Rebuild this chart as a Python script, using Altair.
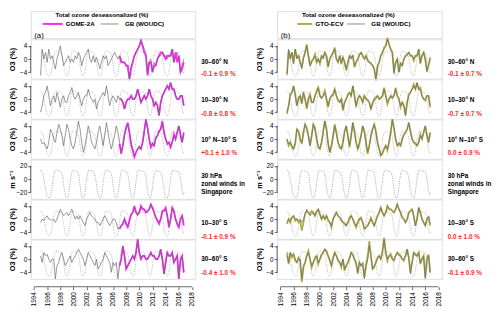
import altair as alt
import pandas as pd

# ---------------- data ----------------
T0 = 1995.0          # first quarterly sample of the ozone series
TS = 0.25            # quarterly step
SAT0 = 2007.0        # first GOME-2A sample
WIND_T0 = 1995.0     # first bimonthly wind sample
WIND_TS = 1 / 6

gb_30_60N = [-5, 3, 0, 2, -1, 3, 0, 1, -1, -3, 0, 2, 4, 1, -2, -1, 0, 1, -1, 0,
             -1, 1, 0, 2, 1, -2, 0, 1, 2, 3, 0, -1, 1, -1, 0.5, -1, -3, -1, 1, 0,
             1, -2, -1, 0, 1, 2, 1, 0, 1, 0, -1, -1, -2, -3, -6.5, -2, -1, 1, 2, 3,
             4, 6, 4.5, 3, 2, -4.5, -1, 0, -4, -1, -2, 0, 1, 1, 2, 1, 1, 0, 1, 1,
             3, -1, 1, 2, 0, -4, -2, 0]
gb_10_30N = [-4, -2, 1, 2, 4, 1, -2, 0, 1, -1, 2, 0, -2.5, 0, 1, -1, -1, 1, 2, 3.5,
             1, 0, 1, 2, 0, -2, 0, 1, 1, 3, 1, 0, -1, 0, -3, -1, 0, 1, 2, 1,
             4, 1, -2, 0, 1, 0, -1, 1, 0, 0, -1, -3, -1, 0, 0, 1, 0, 0, 1, 3,
             1, -1, 0, 1, 0, 1, 3, 1, 0, -2, -1, -2, -5, -1, 1, 2, 3, 4, 3, 5,
             3, 3, 1, 0, 0, 1, 1, -2]
gb_10N_10S = [0, -1.5, -1, -2, -3, -1, 3, 2, 0, -1, 2, 4.5, 3, 1, -2, 1, 4.5, 3, 0, -2,
              -3, -1, 2, 5.5, 3, -1, -4, -2, 1, 4, 2, -1, -2, -3, -1, 2, 4, 1, -2, 1,
              5, 2, -1, -3, -1, 1, 4, 2, -1, -4, -2, 1, 3, 4.5, 2, -1, -3, -5, -4, -3,
              -2, -3, -1, 2, 6, 3, 0, -2, -1, -2, 0, 1, 2, 3, 5, 2, 0, -1, -1, -2,
              -1, 1, 0, 2, 4, 1, -1, 2]
gb_10_30S = [-1, 0, -0.5, 0.5, 1, 0, 0, -0.5, 0, -1, 0, 1.5, 3, 2, 1, 1.5, 2, 1, 2, 3,
             1.5, 0, 1, 0, 1, 0, -1, -2, 0, 1, 2, 1, 0.5, 0, -1, -1, -2, -1, 0, 1,
             0, -1, -2, -1, 0, 0, -1, -3, -2.5, -2, -1, 0, -1, -2, -0.5, 1, 2, 3.5, 2, 1,
             2, 4, 3.5, 3, 2.5, 2, 3, 4.5, 3, 2, 0.5, 0, -1, 0, 2, 2.5, 3, 1, -2, 0,
             3.5, 2, 0, -1, -2, 0, 1, -1.5]
gb_30_60S = [1, -1, 2, 1, 1.5, 0, -1, 0, 0, -6, -2, -1, 1, 2, 0, -2, -1, 0, 1, -1,
             0, 1, 2, 3, 2, 1, 0, -2, 0, 2, 1, 0, -1, -2, 0, -3, -2, -1, 0, 2,
             1, 0, -1, -4, -1, -2, -1, -6, -2, 0, 4, 1, -3, -2, -1, 0, 1, 0, 2, 6,
             2, 0, 1, 1, 0, 0, 1, 2, 1, 1, 0, 0, 1, 3, 0, -4.5, -1, 2, 1, 1,
             2, -1, 0, 1, -6, 0, 1, -4]

gome_30_60N = [1, -1, -1, -1, -2, -2, -6, -3, -1, 1, 2, 3, 4, 5.5, 4, 2, 1, -5, -1, -1,
               -4, -2, -2, 0, 1, 2, 2, 1, 0, 1, 1, 1, 3, -1, 2, -1, 1, -4, -3, -1]
gome_10_30N = [0, 0, -1, -3, -1, 0, 0, 1, 0, 0, 1, 3, 1, -1, 0, 1, 0, 1, 3, 1,
               0, -2, -1, -2, -5, -1, 1, 2, 3, 4, 3, 5, 3, 3, 1, 0, 0, 1, 1, -2]
gome_10N_10S = [-1.5, -4.5, -2, 1.5, 3.5, 5, 2, -1.5, -3.5, -5.5, -4, -3, -2.5, -3, -1, 2.5,
                6, 3.5, 0, -2.5, -1.5, -2, 0.5, 1, 2.5, 3, 5.5, 2, 0, -1.5, -1, -2.5,
                -1, 1.5, 0, 2, 4, 1.5, -1, 2]
gome_10_30S = [-3, -2, -1.5, 0, -1.5, -2.5, -0.5, 1.5, 2, 4, 2, 1.5, 2, 4, 3, 3, 2, 2.5, 3, 4.5,
               3.5, 2, 0.5, -0.5, -1.5, 0, 2.5, 2.5, 3.5, 1, -2.5, 0, 3.5, 2.5, 0, -1.5, -2.5, 0, 1, -2]
gome_30_60S = [-2, 0, 4, 1, -3, -2, -1, 0, 1, 0, 2, 6, 2, 0, 1, 1, 0, 0, 1, 2,
               1, 1, 0, 0, 1, 3, 0, -4.5, -1, 2, 1, 1, 2, -1, 0, 1, -6, 0, 1, -4]

gto_30_60N = [-4.5, 2.5, 0.5, 2, -1.5, 3, 0.5, 1, -1, -2.5, 0.5, 2, 4.5, 1, -2, -0.5, 0, 1.5, -1, 0,
              -1.5, 1, 0.5, 2, 1, -2.5, 0, 1, 2, 3.5, 0, -1, 1, -1.5, 0.5, -1, -3.5, -1, 1, 0.5,
              1, -2.5, -1, 0, 1.5, 2, 1, 0, 1, -0.5, -1, -1.5, -2, -3, -6, -2.5, -1, 1, 2, 3.5,
              4, 6.5, 4.5, 3, 2, -4, -1, 0, -4, -1.5, -2, 0, 1, 1.5, 2, 1, 1, -0.5, 1, 1,
              3, -1.5, 1, 2, 0, -3.5, -2, 0.5]
gto_10_30N = [-4.5, -2, 1.5, 2, 4, 1.5, -2, 0.5, 1, -1.5, 2, 0, -3, 0, 1.5, -1, -1, 1, 2.5, 3.5,
              1, 0.5, 1, 2.5, 0, -2.5, 0, 1, 1.5, 3, 1, -0.5, -1, 0, -3.5, -1, 0, 1.5, 2, 1,
              4, 1, -2.5, 0, 1, 0.5, -1, 1, 0, -0.5, -1, -3, -1.5, 0, 0.5, 1, 0, 0.5, 1, 3.5,
              1, -1.5, 0, 1, 0.5, 1, 3.5, 1, 0, -2.5, -1, -2, -5, -1, 1.5, 2, 3, 4.5, 3, 5,
              3, 3.5, 1, 0, -0.5, 1, 1, -2.5]
gto_10N_10S = [0, -2, -1, -2.5, -3, -1.5, 3, 2.5, 0, -1.5, 2, 4.5, 3.5, 1, -2, 1, 4.5, 3.5, 0, -2.5,
               -3, -1, 2.5, 5.5, 3, -1.5, -4, -2, 1, 4.5, 2, -1, -2.5, -3, -1, 2.5, 4, 1, -2.5, 1,
               5, 2.5, -1, -3, -1.5, 1, 4, 2.5, -1, -4.5, -2, 1, 3, 4.5, 2.5, -1, -3, -5, -4.5, -3,
               -2, -3.5, -1, 2, 6, 3.5, 0, -2, -1.5, -2, 0, 1.5, 2, 3, 5, 2.5, 0, -1, -1.5, -2,
               -1, 1.5, 0, 2, 4, 1.5, -1, 2]
gto_10_30S = [-1.5, 0, -1, 0.5, 1, -0.5, 0, -1, -0.5, -3.5, -1, 1.5, 2.5, 2, 1.5, 2.5, 2, 1, 2.5, 3,
              1.5, 0, 1, 0, 1, -0.5, -1, -2.5, 0, 1, 2, 1, 0.5, -0.5, -1, -1.5, -2, -1, 0.5, 1,
              0, -1.5, -2.5, -1, 0, 0.5, -1, -3, -2.5, -2, -1, 0.5, -1, -2, -0.5, 1, 2, 3.5, 2, 1,
              2, 4, 3, 3, 2.5, 2, 3, 4.5, 3, 2, 0.5, 0, -1, 0, 2, 2.5, 3, 1, -2, 0,
              3.5, 2, 0, -1, -2, 0, 0.5, -2]
gto_30_60S = [2, -1.5, 2, 0.5, 1.5, -0.5, -1, 0.5, -0.5, -7, -2.5, -1, 1, 2.5, 0, -2.5, -1, 0.5, 1, -1.5,
              0, 1.5, 2, 3, 2.5, 1, -0.5, -2, 0.5, 2, 1, -0.5, -1, -2.5, 0, -3.5, -2, -1, 0.5, 2,
              1.5, 0, -1.5, -4.5, -1, -2, -1.5, -5.5, -2, 0.5, 5.5, 1, -3, -2.5, -1, 0.5, 1, 0, 2.5, 6.5,
              2, -0.5, 1, 1.5, 0, -0.5, 1, 2, 1.5, 1, 0, -0.5, 1, 3, 0.5, -4, -1, 2, 1.5, 1,
              2, -1.5, 0, 1, -5.5, 0, 1.5, -4]

wind_30hPa = [14, 12, 8, 0, -10, -20, -25, -28, -29, -27, -20, -8,
              5, 12, 14, 13, 12, 12, 12, 10, 5, -8, -20, -27,
              -29, -27, -18, -5, 7, 13, 14, 13, 12, 12, 10, 3,
              -10, -22, -28, -29, -26, -15, 0, 10, 14, 13, 12, 12,
              11, 8, 2, -8, -20, -27, -29, -28, -20, -6, 6, 13,
              14, 13, 12, 12, 10, 4, -8, -20, -27, -29, -27, -18,
              -4, 8, 14, 14, 13, 12, 12, 10, 4, -8, -20, -27,
              -29, -27, -17, -3, 8, 13, 14, 13, 12, 12, 12, 10,
              4, -8, -20, -28, -29, -24, -12, 2, 10, 14, 13, 12,
              12, 11, 8, 2, -10, -20, -27, -29, -28, -20, -6, 6,
              13, 14, 13, 12, 12, 12, 11, 6, -5, -18, -24, -20]

band_labels = ["30–60° N", "10–30° N", "10° N–10° S", "10–30° S", "30–60° S"]
trend_a = ["-0.1 ± 0.9 %", "-0.8 ± 0.8 %", "+0.1 ± 1.0 %", "-0.1 ± 0.9 %", "-0.4 ± 1.0 %"]
trend_b = ["-0.1 ± 0.7 %", "-0.7 ± 0.7 %", "0.0 ± 0.9 %", "0.0 ± 1.0 %", "-0.1 ± 0.9 %"]
wind_label = ["30 hPa", "zonal winds in", "Singapore"]
year_ticks = list(range(1994, 2019, 2))
legend_title = "Total ozone deseasonalized (%)"

# ---------------- styling / layout ----------------
FONT = "Arial"
W, H = 167, 40
X_DOM = [1993.5, 2018.5]
WIND_SCALE = 0.18
GB_COLOR = "#6a6a6a"
GB_LEG = "#c4c4c4"
GOME_COLOR = "#ff26ff"
GTO_COLOR = "#b2ac48"
RED = "#ff2a2a"
DOT = "#b0b0b0"
label_y = [23, 21, 21, 24, 20]
trend_y = [35, 35, 34, 38, 34]

one = pd.DataFrame({"k": [0]})


def series_df(vals, t0, step):
    return pd.DataFrame({"t": [t0 + i * step for i in range(len(vals))], "v": vals})


wind_df = series_df(wind_30hPa, WIND_T0, WIND_TS)


def enc(ydom, yticks, ytitle, bottom):
    xs = alt.Scale(domain=X_DOM, nice=False, zero=False)
    ys = alt.Scale(domain=ydom, nice=False, zero=False)
    if bottom:
        xa = alt.Axis(values=year_ticks, format="d", labelAngle=270, labelFontSize=6.5,
                      labelFont=FONT, domain=False, tickSize=3, tickColor="black",
                      tickWidth=0.6, labelPadding=2, offset=8, grid=False, title=None,
                      labelColor="black")
    else:
        xa = None
    ya = alt.Axis(values=yticks, domain=False, tickSize=3, tickColor="black", tickWidth=0.6,
                  labelFontSize=6.5, labelFont=FONT, labelPadding=1, grid=False,
                  title=ytitle, titleFont=FONT, titleFontSize=7.5, titleFontWeight="bold",
                  titleAngle=270, titleX=-14, titleY=H / 2, titleAlign="center",
                  titleBaseline="bottom", labelColor="black")
    return xs, ys, xa, ya


def texts(lines, ys_, colors, dx=6):
    out = []
    for s, y, c in zip(lines, ys_, colors):
        out.append(alt.Chart(one).mark_text(align="left", baseline="middle", font=FONT,
                                            fontSize=6.5, fontWeight="bold", color=c, text=s)
                   .encode(x=alt.value(W + dx), y=alt.value(y)))
    return out


def o3_panel(i, gb, sat, sat_t0, sat_color, trends, bottom=False):
    xs, ys, xa, ya = enc([-6, 6], [-4, 0, 4], "O3 (%)", bottom)
    X = alt.X("t:Q", scale=xs, axis=xa)
    Y = alt.Y("v:Q", scale=ys, axis=ya)
    layers = [
        alt.Chart(wind_df).transform_calculate(v=f"datum.v * {WIND_SCALE}")
        .mark_line(color=DOT, strokeWidth=0.8, strokeDash=[1.2, 1.2]).encode(x=X, y=Y),
        alt.Chart(series_df(sat, sat_t0, TS)).mark_line(color=sat_color, strokeWidth=1.8)
        .encode(x=X, y=Y),
        alt.Chart(series_df(gb, T0, TS)).mark_line(color=GB_COLOR, strokeWidth=0.7)
        .encode(x=X, y=Y),
        alt.Chart(pd.DataFrame({"a": [-4], "b": [4]})).mark_rule(color="black", strokeWidth=0.6)
        .encode(x=alt.value(0), y=alt.Y("a:Q", scale=ys, axis=ya), y2="b"),
    ]
    if bottom:
        layers.append(alt.Chart(pd.DataFrame({"a": [1994], "b": [2018]}))
                      .mark_rule(color="black", strokeWidth=0.6)
                      .encode(x=alt.X("a:Q", scale=xs, axis=xa), x2="b", y=alt.value(H + 8)))
    layers += texts([band_labels[i], trends[i]], [label_y[i], trend_y[i]], ["black", RED],)
    return alt.layer(*layers).properties(width=W, height=H)


def wind_panel():
    xs, ys, xa, ya = enc([-30, 30], [-20, 0, 20], "m s⁻¹", False)
    X = alt.X("t:Q", scale=xs, axis=xa)
    Y = alt.Y("v:Q", scale=ys, axis=ya)
    layers = [
        alt.Chart(wind_df).mark_line(color="#9a9a9a", strokeWidth=0.8, strokeDash=[1.2, 1.2])
        .encode(x=X, y=Y),
        alt.Chart(pd.DataFrame({"a": [-20], "b": [20]})).mark_rule(color="black", strokeWidth=0.6)
        .encode(x=alt.value(0), y=alt.Y("a:Q", scale=ys, axis=ya), y2="b"),
    ]
    layers += texts(wind_label, [17, 25.3, 33.6], ["black"] * 3)
    return alt.layer(*layers).properties(width=W, height=H)


def header(sat_name, sat_color, tag, sat_line, sat_text_x):
    HH = 27.4
    ls = []
    ls.append(alt.Chart(one).mark_text(align="center", baseline="top", font=FONT, fontSize=6.3,
                                       fontWeight="bold", text=legend_title)
              .encode(x=alt.value(72.3), y=alt.value(0.5)))
    ls.append(alt.Chart(one).mark_rule(color=sat_color, strokeWidth=2)
              .encode(x=alt.value(sat_line[0]), x2=alt.value(sat_line[1]), y=alt.value(13)))
    ls.append(alt.Chart(one).mark_text(align="left", baseline="middle", font=FONT, fontSize=6.3,
                                       fontWeight="bold", text=sat_name)
              .encode(x=alt.value(sat_text_x), y=alt.value(13)))
    ls.append(alt.Chart(one).mark_rule(color=GB_LEG, strokeWidth=2)
              .encode(x=alt.value(71), x2=alt.value(89), y=alt.value(13)))
    ls.append(alt.Chart(one).mark_text(align="left", baseline="middle", font=FONT, fontSize=6.3,
                                       fontWeight="bold", text="GB (WOUDC)")
              .encode(x=alt.value(95.6), y=alt.value(13)))
    ls.append(alt.Chart(one).mark_text(align="left", baseline="middle", font=FONT, fontSize=8,
                                       text=tag)
              .encode(x=alt.value(3.6), y=alt.value(25)))
    return alt.layer(*ls).properties(width=W, height=HH)


def column(sat_lists, sat_t0, sat_color, sat_name, tag, trends, sat_line, sat_text_x):
    gbs = [gb_30_60N, gb_10_30N, gb_10N_10S, gb_10_30S, gb_30_60S]
    rows = [header(sat_name, sat_color, tag, sat_line, sat_text_x)]
    rows.append(o3_panel(0, gbs[0], sat_lists[0], sat_t0, sat_color, trends))
    rows.append(o3_panel(1, gbs[1], sat_lists[1], sat_t0, sat_color, trends))
    rows.append(o3_panel(2, gbs[2], sat_lists[2], sat_t0, sat_color, trends))
    rows.append(wind_panel())
    rows.append(o3_panel(3, gbs[3], sat_lists[3], sat_t0, sat_color, trends))
    rows.append(o3_panel(4, gbs[4], sat_lists[4], sat_t0, sat_color, trends, bottom=True))
    return alt.vconcat(*rows, spacing=0.6, bounds="flush")


left = column([gome_30_60N, gome_10_30N, gome_10N_10S, gome_10_30S, gome_30_60S], SAT0,
              GOME_COLOR, "GOME-2A", "(a)", trend_a, (12.3, 32.3), 35.6)
right = column([gto_30_60N, gto_10_30N, gto_10N_10S, gto_10_30S, gto_30_60S], T0,
               GTO_COLOR, "GTO-ECV", "(b)", trend_b, (20.6, 35.6), 38.9)

chart = alt.hconcat(left, right, spacing=250, bounds="flush").properties(padding=0).configure_view(
    stroke=None).configure(background="white")

chart.save("out.html", embed_options={"renderer": "svg", "actions": False})
